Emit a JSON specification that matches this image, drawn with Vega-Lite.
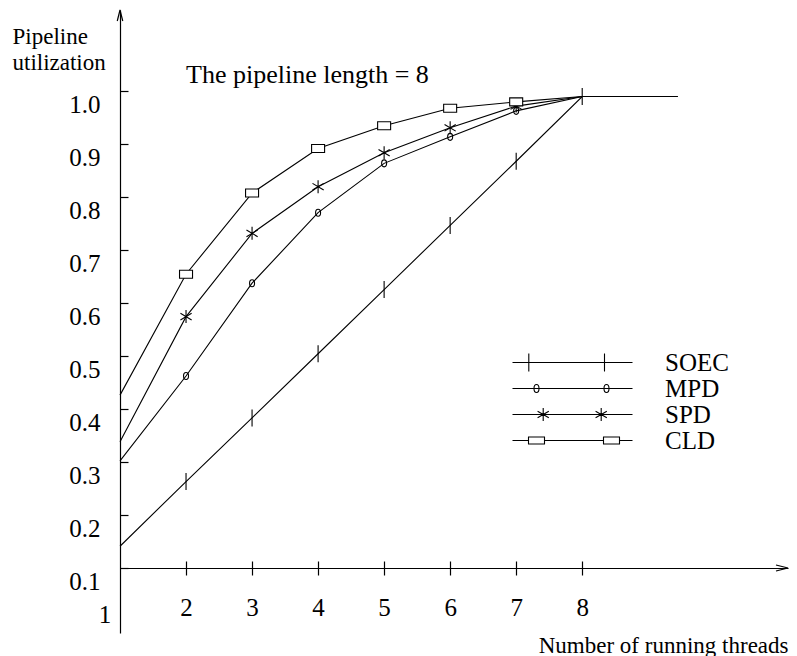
{
  "$schema": "https://vega.github.io/schema/vega-lite/v6.json",
  "width": 668,
  "height": 623,
  "autosize": {"type": "none"},
  "padding": {"left": 120, "top": 10, "right": 9, "bottom": 23},
  "background": "white",
  "config": {"view": {"stroke": null}, "font": "Liberation Serif"},
  "datasets": {
    "curves": [
      {"s": "SOEC", "x": 1, "y": 0.141}, {"s": "SOEC", "x": 2, "y": 0.263}, {"s": "SOEC", "x": 3, "y": 0.383}, {"s": "SOEC", "x": 4, "y": 0.504},
      {"s": "SOEC", "x": 5, "y": 0.625}, {"s": "SOEC", "x": 6, "y": 0.746}, {"s": "SOEC", "x": 7, "y": 0.867}, {"s": "SOEC", "x": 8, "y": 0.989},
      {"s": "SOEC", "x": 9.45, "y": 0.989},
      {"s": "MPD", "x": 1, "y": 0.302}, {"s": "MPD", "x": 2, "y": 0.462}, {"s": "MPD", "x": 3, "y": 0.637}, {"s": "MPD", "x": 4, "y": 0.770},
      {"s": "MPD", "x": 5, "y": 0.863}, {"s": "MPD", "x": 6, "y": 0.913}, {"s": "MPD", "x": 7, "y": 0.962}, {"s": "MPD", "x": 8, "y": 0.989},
      {"s": "SPD", "x": 1, "y": 0.338}, {"s": "SPD", "x": 2, "y": 0.574}, {"s": "SPD", "x": 3, "y": 0.731}, {"s": "SPD", "x": 4, "y": 0.819},
      {"s": "SPD", "x": 5, "y": 0.883}, {"s": "SPD", "x": 6, "y": 0.930}, {"s": "SPD", "x": 7, "y": 0.971}, {"s": "SPD", "x": 8, "y": 0.989},
      {"s": "CLD", "x": 1, "y": 0.426}, {"s": "CLD", "x": 2, "y": 0.654}, {"s": "CLD", "x": 3, "y": 0.807}, {"s": "CLD", "x": 4, "y": 0.891},
      {"s": "CLD", "x": 5, "y": 0.934}, {"s": "CLD", "x": 6, "y": 0.967}, {"s": "CLD", "x": 7, "y": 0.979}, {"s": "CLD", "x": 8, "y": 0.989}
    ]
  },
  "resolve": {"scale": {"shape": "independent"}, "axis": {"x": "independent"}},
  "layer": [
    {
      "data": {"name": "curves"},
      "mark": {"type": "line", "color": "black", "strokeWidth": 1.1},
      "encoding": {
        "x": {
          "field": "x", "type": "quantitative",
          "scale": {"domain": [1, 11.1166], "nice": false, "zero": false},
          "axis": {
            "orient": "bottom",
            "values": [2, 3, 4, 5, 6, 7, 8], "format": "d", "grid": false,
            "title": "Number of running threads",
            "offset": -65,
            "domainColor": "black", "domainWidth": 1.2,
            "tickColor": "black", "tickWidth": 1.2, "tickSize": 7,
            "labelFont": "Liberation Serif", "labelFontSize": 25, "labelColor": "black",
            "labelPadding": 32, "labelBaseline": "middle", "labelAlign": "center",
            "labelFlush": false, "labelOverlap": false,
            "titleFont": "Liberation Serif", "titleFontSize": 23, "titleFontWeight": "normal", "titleColor": "black",
            "titleX": 668, "titleY": 84, "titleAlign": "right", "titleBaseline": "alphabetic"
          }
        },
        "y": {
          "field": "y", "type": "quantitative",
          "scale": {"domain": [-0.02257, 1.15218], "nice": false, "zero": false},
          "axis": {
            "values": [0.1, 0.2, 0.3, 0.4, 0.5, 0.6, 0.7, 0.8, 0.9, 1.0], "format": ".1f", "grid": false,
            "title": ["Pipeline", "utilization"],
            "domainColor": "black", "domainWidth": 1.2,
            "tickColor": "black", "tickWidth": 1.2, "tickSize": -8,
            "labelFont": "Liberation Serif", "labelFontSize": 25, "labelColor": "black",
            "labelPadding": 28, "labelBaseline": "middle", "labelAlign": "right", "labelOffset": 14,
            "labelFlush": false, "labelOverlap": false,
            "titleFont": "Liberation Serif", "titleFontSize": 23, "titleFontWeight": "normal", "titleColor": "black",
            "titleAngle": 0, "titleX": -108, "titleY": 33, "titleAlign": "left", "titleBaseline": "alphabetic", "titleLineHeight": 26.7
          }
        },
        "detail": {"field": "s"}
      }
    },
    {
      "data": {"name": "curves"},
      "transform": [{"filter": "(datum.x >= 2 && datum.x <= 7) || (datum.s === 'SOEC' && datum.x === 8)"}],
      "mark": {"type": "point", "filled": false, "color": "black", "strokeWidth": 1.1, "size": 400, "opacity": 1},
      "encoding": {
        "x": {
          "field": "x", "type": "quantitative", "scale": {"domain": [1, 11.1166], "nice": false, "zero": false},
          "axis": {
            "orient": "top", "offset": -558, "values": [2, 3, 4, 5, 6, 7, 8],
            "labels": false, "domain": false, "grid": false, "title": null,
            "tickSize": 7, "tickColor": "black", "tickWidth": 1.2
          }
        },
        "y": {"field": "y", "type": "quantitative", "scale": {"domain": [-0.02257, 1.15218], "nice": false, "zero": false}},
        "shape": {
          "field": "s", "type": "nominal",
          "scale": {
            "domain": ["SOEC", "MPD", "SPD", "CLD"],
            "range": [
              "M0,-0.85V0.85",
              "M0,-0.35A0.25,0.35 0 1,1 0,0.35A0.25,0.35 0 1,1 0,-0.35Z",
              "M0,-0.65V0.65M-0.56,-0.33L0.56,0.33M-0.56,0.33L0.56,-0.33",
              "M-0.65,-0.4H0.65V0.4H-0.65Z"
            ]
          },
          "legend": null
        },
        "fill": {"condition": {"test": "datum.s === 'CLD'", "value": "white"}, "value": "transparent"}
      }
    },
    {
      "data": {"name": "curves"},
      "transform": [{"filter": "datum.x > 100"}],
      "mark": {"type": "point", "filled": false, "color": "black", "strokeWidth": 1.1, "size": 400, "opacity": 1},
      "encoding": {
        "x": {"field": "x", "type": "quantitative", "scale": {"domain": [1, 11.1166], "nice": false, "zero": false}, "axis": null},
        "y": {"field": "y", "type": "quantitative", "scale": {"domain": [-0.02257, 1.15218], "nice": false, "zero": false}},
        "shape": {
          "field": "s", "type": "nominal",
          "scale": {
            "domain": ["SOEC", "MPD", "SPD", "CLD"],
            "range": [
              "M-6,0H6M-4.37,-0.9V0.9M3.2,-0.9V0.9",
              "M-6,0H6M-3.6,-0.4A0.25,0.4 0 1,1 -3.6,0.4A0.25,0.4 0 1,1 -3.6,-0.4ZM3.4,-0.4A0.25,0.4 0 1,1 3.4,0.4A0.25,0.4 0 1,1 3.4,-0.4Z",
              "M-6,0H6M-2.93,-0.65V0.65M-3.49,-0.33L-2.37,0.33M-3.49,0.33L-2.37,-0.33M2.87,-0.65V0.65M2.31,-0.33L3.43,0.33M2.31,0.33L3.43,-0.33",
              "M-6,0H-4.4M-2.8,0H3.1M4.7,0H6M-4.4,-0.35H-2.8V0.35H-4.4ZM3.1,-0.35H4.7V0.35H3.1Z"
            ]
          },
          "legend": {
            "title": null, "orient": "none", "legendX": 440, "legendY": 340,
            "symbolSize": 400, "symbolStrokeColor": "black", "symbolStrokeWidth": 1.1, "symbolFillColor": "white", "symbolOpacity": 1,
            "labelFont": "Liberation Serif", "labelFontSize": 25, "labelColor": "black", "labelOffset": 80,
            "rowPadding": 0
          }
        }
      }
    },
    {
      "data": {"values": [{}]},
      "mark": {"type": "point", "shape": "M-2.4,-0.6L0,0L-2.4,0.6", "size": 100, "filled": false, "color": "black", "strokeWidth": 1.2, "opacity": 1},
      "encoding": {
        "x": {"datum": 11.1166, "type": "quantitative", "scale": {"domain": [1, 11.1166], "nice": false, "zero": false}, "axis": null},
        "y": {"datum": 0.1, "type": "quantitative", "scale": {"domain": [-0.02257, 1.15218], "nice": false, "zero": false}}
      }
    },
    {
      "data": {"values": [{}]},
      "mark": {"type": "point", "shape": "M-0.55,2.2L0,0L0.55,2.2", "size": 100, "filled": false, "color": "black", "strokeWidth": 1.2, "opacity": 1},
      "encoding": {
        "x": {"datum": 1, "type": "quantitative", "scale": {"domain": [1, 11.1166], "nice": false, "zero": false}, "axis": null},
        "y": {"datum": 1.15218, "type": "quantitative", "scale": {"domain": [-0.02257, 1.15218], "nice": false, "zero": false}}
      }
    },
    {
      "data": {"values": [{}]},
      "mark": {"type": "text", "text": "1", "font": "Liberation Serif", "fontSize": 25, "align": "center", "baseline": "middle", "color": "black", "dx": -15, "dy": 47},
      "encoding": {
        "x": {"datum": 1, "type": "quantitative", "scale": {"domain": [1, 11.1166], "nice": false, "zero": false}, "axis": null},
        "y": {"datum": 0.1, "type": "quantitative", "scale": {"domain": [-0.02257, 1.15218], "nice": false, "zero": false}}
      }
    },
    {
      "data": {"values": [{}]},
      "mark": {"type": "text", "text": "The pipeline length = 8", "font": "Liberation Serif", "fontSize": 26, "align": "left", "baseline": "alphabetic", "color": "black"},
      "encoding": {
        "x": {"datum": 2.0, "type": "quantitative", "scale": {"domain": [1, 11.1166], "nice": false, "zero": false}, "axis": null},
        "y": {"datum": 1.0145, "type": "quantitative", "scale": {"domain": [-0.02257, 1.15218], "nice": false, "zero": false}}
      }
    }
  ]
}
